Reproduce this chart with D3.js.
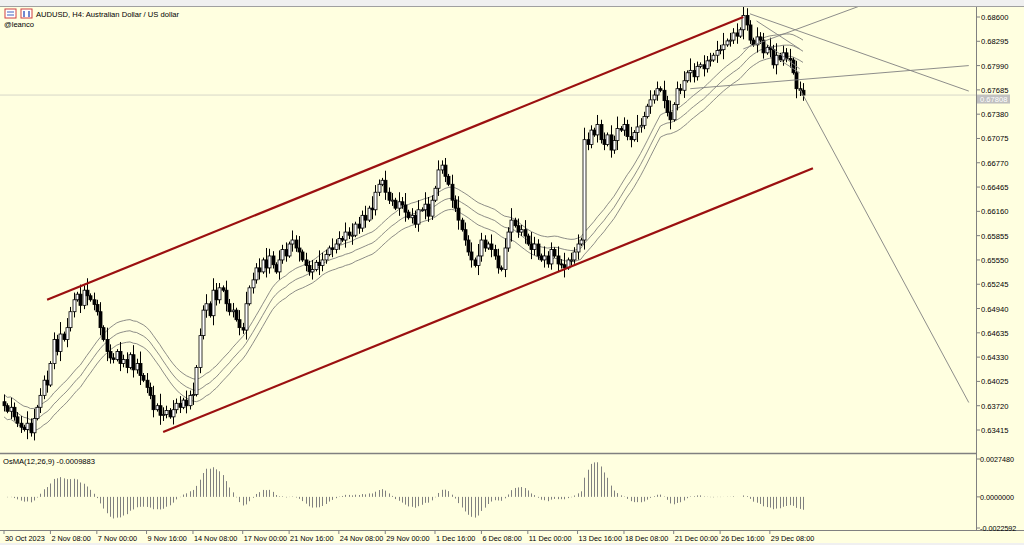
<!DOCTYPE html>
<html><head><meta charset="utf-8">
<script src="https://cdn.jsdelivr.net/npm/d3@7"></script>
<style>body{margin:0;background:#fff;}svg{display:block;font-family:"Liberation Sans",Arial,sans-serif;}</style>
</head><body><svg id="c" width="1024" height="545"></svg>
<script>
const closesPips = [6372,6365,6370,6358,6350,6345,6342,6350,6338,6356,6370,6385,6404,6398,6425,6455,6440,6462,6455,6470,6490,6505,6512,6498,6517,6510,6505,6499,6490,6470,6455,6440,6432,6430,6440,6425,6430,6420,6436,6417,6425,6410,6404,6395,6385,6367,6372,6360,6361,6366,6358,6367,6375,6370,6379,6372,6385,6386,6420,6460,6492,6500,6485,6517,6505,6520,6517,6500,6490,6492,6480,6470,6467,6500,6520,6530,6545,6540,6555,6545,6560,6549,6540,6555,6568,6560,6575,6580,6570,6565,6555,6548,6540,6543,6552,6548,6555,6562,6570,6568,6575,6582,6580,6590,6586,6586,6600,6595,6611,6605,6620,6618,6640,6650,6655,6640,6630,6630,6620,6628,6624,6615,6608,6611,6600,6618,6618,6625,6610,6630,6645,6668,6674,6660,6650,6630,6620,6605,6593,6580,6565,6555,6548,6560,6580,6570,6575,6568,6560,6545,6543,6570,6590,6605,6598,6590,6593,6585,6575,6568,6575,6560,6555,6560,6550,6568,6560,6550,6549,6545,6555,6555,6565,6575,6580,6706,6700,6718,6712,6725,6706,6700,6712,6693,6705,6720,6718,6725,6710,6706,6715,6722,6724,6735,6748,6756,6762,6770,6768,6755,6740,6731,6750,6770,6768,6780,6790,6793,6785,6798,6800,6795,6805,6806,6812,6818,6819,6825,6830,6831,6840,6836,6844,6862,6850,6831,6825,6835,6831,6815,6822,6819,6800,6812,6806,6815,6808,6806,6790,6770,6768,6762];
const wickDigits = "3142231524132413251423142513241532142314251324153214231425132415321423142513241532142314251324153214231425132415321423142513241532142314251324153214231425132415321423142513241532142314251324153214231425132415321423142513241532142314251324153";
const priceTicks = ["0.68600","0.68295","0.67990","0.67685","0.67380","0.67075","0.66770","0.66465","0.66160","0.65855","0.65550","0.65245","0.64940","0.64635","0.64330","0.64025","0.63720","0.63415"];
const oscTicks = ["0.0027480","0.0000000","-0.0022592"];
const dateLabels = ["30 Oct 2023","2 Nov 08:00","7 Nov 00:00","9 Nov 16:00","14 Nov 08:00","17 Nov 00:00","21 Nov 16:00","24 Nov 08:00","29 Nov 00:00","1 Dec 16:00","6 Dec 08:00","11 Dec 00:00","13 Dec 16:00","18 Dec 08:00","21 Dec 00:00","26 Dec 16:00","29 Dec 08:00"];
const dateIdx = [0,14,28,43,57,72,86,101,115,130,144,158,173,187,202,216,231];
const upperChannel = [[13,0.6505],[223,0.6860]];
const lowerChannel = [[48,0.6339],[244,0.6670]];
const grayLines = [[[225,0.6864],[291,0.6767]],[[207,0.6770],[291,0.6799]],[[240,0.6770],[291,0.6376]],[[223,0.6820],[270,0.6892]],[[227,0.6855],[240,0.6820]],[[230,0.6826],[240,0.6795]],[[234,0.6806],[240,0.6790]]];
const lastPrice = 0.67808;
const crosshairPrice = 0.6762;

const svg = d3.select("#c");
const W=1024,H=545, R=976, T=6, MB=453, OB=530;
svg.append("rect").attr("width",W).attr("height",H).attr("fill","#f0f0f0");
svg.append("rect").attr("x",0).attr("y",T).attr("width",W).attr("height",H-T-2).attr("fill","#ffffe0");

const n = closesPips.length;
const data = closesPips.map((c,i)=>{
  const close=c/10000, open=i?closesPips[i-1]/10000:close+0.0005;
  const w=+wickDigits[i%wickDigits.length]*0.0003;
  return {i,open,close,high:Math.max(open,close)+w,low:Math.min(open,close)-w*0.8};
});
const x = d3.scaleLinear().domain([0,n-1]).range([4,803]);
const y = d3.scaleLinear().domain([0.63415,0.686]).range([430,17]);
const g = svg.append("g");
g.append("defs").append("clipPath").attr("id","mc").append("rect").attr("x",0).attr("y",T).attr("width",R).attr("height",MB-T);
const main = g.append("g").attr("clip-path","url(#mc)");

main.append("line").attr("x1",0).attr("x2",R).attr("y1",y(crosshairPrice)).attr("y2",y(crosshairPrice)).attr("stroke","#d8d8c8");

const per=24;
const ma = data.map((d,i)=>d3.mean(data.slice(Math.max(0,i-per+1),i+1),e=>e.close));
[-0.0014,0,0.0014].forEach(off=>{
  main.append("path").attr("d",d3.line().x((d,i)=>x(i)).y((d,i)=>y(ma[i]+off))(data)).attr("fill","none").attr("stroke","#707070").attr("stroke-width",0.8);
});

const cg = main.append("g");
data.forEach(d=>{
  const cx=Math.round(x(d.i))+0.5;
  cg.append("line").attr("x1",cx).attr("x2",cx).attr("y1",y(d.high)).attr("y2",y(d.low)).attr("stroke","#000");
  const top=y(Math.max(d.open,d.close)), h=Math.max(1,Math.abs(y(d.open)-y(d.close)));
  cg.append("rect").attr("x",cx-1.5).attr("y",top).attr("width",3).attr("height",h)
    .attr("fill",d.close>=d.open?"#ffffff":"#000").attr("stroke","#000").attr("stroke-width",0.8);
});

[upperChannel,lowerChannel].forEach(l=>{
  main.append("line").attr("x1",x(l[0][0])).attr("y1",y(l[0][1])).attr("x2",x(l[1][0])).attr("y2",y(l[1][1])).attr("stroke","#9b1010").attr("stroke-width",2.2);
});
grayLines.forEach(l=>{
  main.append("line").attr("x1",x(l[0][0])).attr("y1",y(l[0][1])).attr("x2",x(l[1][0])).attr("y2",y(l[1][1])).attr("stroke","#808080").attr("stroke-width",0.9);
});

svg.append("line").attr("x1",R+0.5).attr("x2",R+0.5).attr("y1",T).attr("y2",OB).attr("stroke","#808080");
svg.append("line").attr("x1",0).attr("x2",R).attr("y1",MB+0.5).attr("y2",MB+0.5).attr("stroke","#808080").attr("stroke-width",1.5);
svg.append("line").attr("x1",0).attr("x2",W).attr("y1",OB+0.5).attr("y2",OB+0.5).attr("stroke","#808080");
svg.append("line").attr("x1",0).attr("x2",W).attr("y1",T+0.5).attr("y2",T+0.5).attr("stroke","#a0a0a0");

const fs=7.6;
priceTicks.forEach(t=>{
  const yy=y(+t);
  svg.append("line").attr("x1",R).attr("x2",R+4).attr("y1",yy).attr("y2",yy).attr("stroke","#808080");
  svg.append("text").attr("x",R+5).attr("y",yy+3).attr("font-size",fs).attr("fill","#000").text(t);
});
const ly=y(crosshairPrice)+4;
svg.append("rect").attr("x",R+1).attr("y",ly-4.5).attr("width",33).attr("height",9).attr("fill","#c0c0c0");
svg.append("text").attr("x",R+4).attr("y",ly+3).attr("font-size",fs).attr("fill","#fff").text(lastPrice.toFixed(5));

const ema=(arr,p)=>{const k=2/(p+1);const o=[];arr.forEach((v,i)=>o.push(i?v*k+o[i-1]*(1-k):v));return o;};
const cl=data.map(d=>d.close);
const e12=ema(cl,12),e26=ema(cl,26);
const macd=e12.map((v,i)=>v-e26[i]);
const sig=d3.range(n).map(i=>d3.mean(macd.slice(Math.max(0,i-8),i+1)));
const osma=macd.map((v,i)=>v-sig[i]);
const oy=d3.scaleLinear().domain([-0.0022592,0.002748]).range([528,459]);
osma.forEach((v,i)=>{
  svg.append("line").attr("x1",Math.round(x(i))+0.5).attr("x2",Math.round(x(i))+0.5).attr("y1",oy(0)).attr("y2",oy(v)).attr("stroke","#808080");
});
oscTicks.forEach(t=>{
  const yy=oy(+t);
  svg.append("line").attr("x1",R).attr("x2",R+4).attr("y1",yy).attr("y2",yy).attr("stroke","#808080");
  svg.append("text").attr("x",R+4).attr("y",yy+3).attr("font-size",7.2).text(t);
});
svg.append("text").attr("x",3).attr("y",464).attr("font-size",fs).text("OsMA(12,26,9) -0.0009883");

dateLabels.forEach((t,k)=>{
  const xx=x(dateIdx[k]);
  svg.append("line").attr("x1",xx).attr("x2",xx).attr("y1",OB).attr("y2",OB+4).attr("stroke","#808080");
  svg.append("text").attr("x",xx+1).attr("y",541).attr("font-size",7.3).text(t);
});

const hg=svg.append("g");
hg.append("rect").attr("x",5).attr("y",9).attr("width",11).attr("height",9).attr("fill","#fff").attr("stroke","#d04040");
hg.append("rect").attr("x",21).attr("y",9).attr("width",11).attr("height",9).attr("fill","#fff").attr("stroke","#d04040");
hg.append("path").attr("d","M7,12H14M7,15H14").attr("stroke","#4060c0");
hg.append("path").attr("d","M24,11V17M29,11V17").attr("stroke","#4060c0").attr("stroke-width",1.5);
svg.append("text").attr("x",36).attr("y",17).attr("font-size",fs).text("AUDUSD, H4:  Australian Dollar / US dollar");
svg.append("text").attr("x",4).attr("y",27).attr("font-size",fs).text("@leanco");
</script></body></html>
